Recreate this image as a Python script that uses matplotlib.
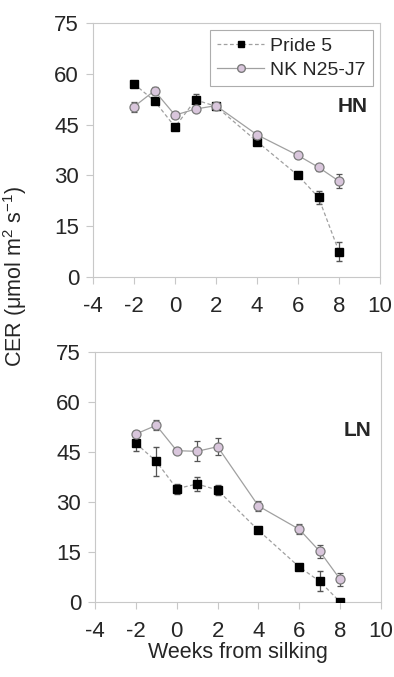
import matplotlib

matplotlib.use("Agg")
import matplotlib.pyplot as plt
from matplotlib.lines import Line2D

plt.rcParams["font.family"] = ["Liberation Sans", "DejaVu Sans"]
plt.rcParams["mathtext.default"] = "regular"
plt.rcParams["axes.unicode_minus"] = False

weeks = [-2, -1, 0, 1, 2, 4, 6, 7, 8]

# HN panel
hn_pride = [57.0, 52.0, 44.3, 52.3, 50.4, 40.0, 30.0, 23.5, 7.5]
hn_pride_err = [1.0, 1.0, 0.8, 1.8, 0.8, 0.8, 0.8, 1.8, 2.7]
hn_nk = [50.3, 55.0, 47.8, 49.6, 50.6, 42.0, 35.9, 32.4, 28.3]
hn_nk_err = [1.5, 1.0, 0.8, 0.8, 0.8, 0.8, 0.8, 1.0, 2.0]

# LN panel
ln_pride = [47.6, 42.2, 34.0, 35.4, 33.6, 21.5, 10.5, 6.2, 0.0]
ln_pride_err = [2.3, 4.3, 1.5, 2.0, 1.5, 0.8, 0.8, 3.0, 0.3]
ln_nk = [50.4, 53.0, 45.4, 45.2, 46.6, 28.8, 21.8, 15.2, 6.8]
ln_nk_err = [0.8, 1.5, 0.8, 3.0, 2.5, 1.5, 1.5, 2.0, 2.0]

x_ticks = [-4, -2, 0, 2, 4, 6, 8, 10]
y_ticks = [0, 15, 30, 45, 60, 75]

fig = plt.figure(figsize=(3.94, 6.77), dpi=100)
W, H = 394, 677
ax_top = fig.add_axes([93 / W, 1 - 277 / H, 287 / W, 254 / H])
ax_bot = fig.add_axes([95 / W, 1 - 602 / H, 286 / W, 250 / H])

spine_col = "#c8c8c8"
line_col = "#a0a0a0"
nk_face = "#d9c6dc"
nk_edge = "#7a7a7a"
txt_col = "#262626"


def draw_panel(ax, pride, pride_err, nk, nk_err, tag, tag_xy):
    ax.errorbar(weeks, pride, yerr=pride_err, fmt="s", ls=(0, (3, 2)),
                color=line_col, lw=0.9, mfc="black", mec="black", ms=6.2,
                ecolor="#555555", elinewidth=0.9, capsize=2.5, zorder=3)
    ax.errorbar(weeks, nk, yerr=nk_err, fmt="o", ls="-",
                color=line_col, lw=0.9, mfc=nk_face, mec=nk_edge, ms=6.5,
                mew=0.9, ecolor="#555555", elinewidth=0.9, capsize=2.5,
                zorder=4)
    ax.set_xlim(-4, 10)
    ax.set_ylim(0, 75)
    ax.set_xticks(x_ticks)
    ax.set_yticks(y_ticks)
    ax.tick_params(labelsize=16, colors=spine_col, labelcolor=txt_col,
                   length=5, width=0.8)
    ax.tick_params(axis="x", pad=9)
    ax.tick_params(axis="y", pad=5)
    for s in ax.spines.values():
        s.set_color(spine_col)
        s.set_linewidth(0.8)
    ax.text(tag_xy[0], tag_xy[1], tag, fontsize=15, fontweight="bold",
            ha="right", va="center", color=txt_col)


draw_panel(ax_top, hn_pride, hn_pride_err, hn_nk, hn_nk_err, "HN", (9.4, 50.2))
draw_panel(ax_bot, ln_pride, ln_pride_err, ln_nk, ln_nk_err, "LN", (9.55, 51.3))

handles = [
    Line2D([], [], color=line_col, ls=(0, (3, 2)), lw=0.9, marker="s",
           mfc="black", mec="black", ms=5),
    Line2D([], [], color=line_col, ls="-", lw=0.9, marker="o",
           mfc=nk_face, mec=nk_edge, ms=5.5),
]
leg = ax_top.legend(handles, ["Pride 5", "NK N25-J7"], loc="upper right",
                    fontsize=14, frameon=True, fancybox=False,
                    edgecolor="#999999", handlelength=2.4, borderpad=0.4,
                    labelspacing=0.3, handletextpad=0.3, borderaxespad=0.35)
leg.get_frame().set_linewidth(0.8)
for t in leg.get_texts():
    t.set_color(txt_col)

ax_bot.set_xlabel("Weeks from silking", fontsize=15.5, color=txt_col,
                  labelpad=0)
fig.text(15 / W, 1 - 276 / H, r"CER ($\mu$mol m$^{2}$ s$^{-1}$)",
         rotation=90, fontsize=15.5, ha="center", va="center", color=txt_col)

fig.savefig("out.png", dpi=100, facecolor="white")
